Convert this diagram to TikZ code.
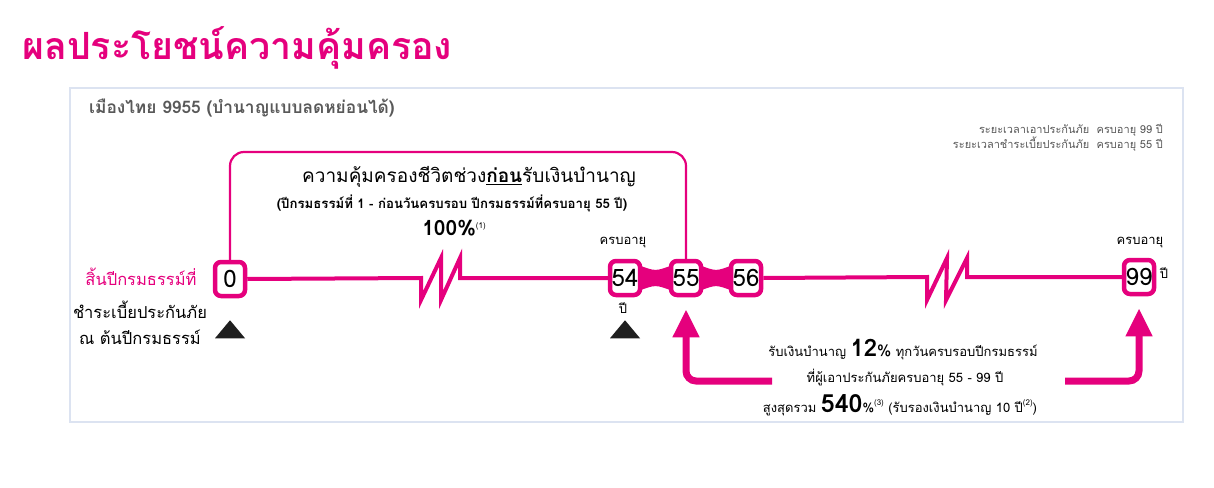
\documentclass[tikz,border=0pt]{standalone}
\usepackage{fontspec}
\setmainfont[Script=Thai]{Loma}
\usepackage{tikz}
\usetikzlibrary{arrows.meta, calc, backgrounds}
\definecolor{pk}{HTML}{E5007D}
\definecolor{frm}{HTML}{DCE3F1}
\definecolor{hd}{HTML}{595959}
\tikzset{>=latex}
\newcommand{\fs}[1]{\fontsize{#1}{#1}\selectfont}

\begin{document}
\begin{tikzpicture}[x=1pt, y=-1pt,
yr/.style={draw=pk, line width=4.5pt, rounded corners=6pt, fill=white, minimum width=30pt, minimum height=34pt, inner sep=0pt, font=\fs{24}},
tl/.style={pk, line width=4pt},
up/.style={pk, line width=7pt, rounded corners=10pt, shorten >=12pt, -{Triangle[width=25pt, length=28pt]}},
lbl/.style={font=\fs{13}, inner sep=0pt},
side/.style={font=\fs{16.5}, inner sep=0pt},
ann/.style={font=\fs{13}, inner sep=0pt}]
\useasboundingbox (0,0) rectangle (1214,487);
\node[anchor=west, text=pk, font=\bfseries\fs{37.5}, inner sep=0pt] (title) at (22,48) {ผลประโยชน์ความคุ้มครอง};
\draw[frm, line width=2pt] (70,88) rectangle (1183,422);
\node[anchor=west, text=hd, font=\bfseries\fs{17.3}, inner sep=0pt] (hdr) at (89,108) {เมืองไทย 9955 (บำนาญแบบลดหย่อนได้)};
\node[anchor=east, text=hd, font=\fs{11}, align=right, inner sep=0pt] (term) at (1163,138) {ระยะเวลาเอาประกันภัย\ \ ครบอายุ 99 ปี\\ระยะเวลาชำระเบี้ยประกันภัย\ \ ครบอายุ 55 ปี};

\node[yr] (y0) at (230,279) {0};
\node[yr] (y54) at (625,278) {54};
\node[yr] (y55) at (686,278) {55};
\node[yr] (y56) at (746,278) {56};
\node[yr] (y99) at (1139,277) {99};

\begin{scope}[on background layer]
\draw[tl] (y0.east) -- (421,278) -- (421,300) -- (441,258) -- (441,300) -- (460,258) -- (460,278) -- (y54.west);
\foreach \a/\b in {y54/y55, y55/y56}
  \fill[pk] ($(\a.east)+(-4,-13)$) .. controls ($(\a.east)!0.5!(\b.west)+(0,-6.5)$) .. ($(\b.west)+(4,-13)$)
    -- ($(\b.west)+(4,13)$) .. controls ($(\a.east)!0.5!(\b.west)+(0,6.5)$) .. ($(\a.east)+(-4,13)$) -- cycle;
\draw[tl] (y56.east) -- (927,277) -- (927,300) -- (947,258) -- (946,300) -- (967,258) -- (967,277) -- (y99.west);
\draw[pk, line width=2.2pt, rounded corners=14pt] (y0.north) |- (460,152) -| (y55.north);
\end{scope}

\node[font=\fs{19}] (cov) at (469,177) {ความคุ้มครองชีวิตช่วง\textbf{\underline{ก่อน}}รับเงินบำนาญ};
\node[font=\bfseries\fs{13.2}] (cov2) at (452,203) {(ปีกรมธรรม์ที่ 1 - ก่อนวันครบรอบ ปีกรมธรรม์ที่ครบอายุ 55 ปี)};
\node[font=\bfseries\fs{21}] (pct) at (454,228) {100\%\raisebox{7pt}{\mdseries\fs{8}(1)}};

\node[lbl] (age54) at (623,243) {ครบอายุ};
\node[lbl] (yr54) at (623,308) {ปี};
\node[lbl] (age99) at (1140,243) {ครบอายุ};
\node[lbl] (yr99) at (1164,273) {ปี};

\node[side, text=pk] (endyr) at (141,277) {สิ้นปีกรมธรรม์ที่};
\node[side] (pay) at (140,310) {ชำระเบี้ยประกันภัย};
\node[side] (start) at (140,337) {ณ ต้นปีกรมธรรม์};

\fill[black!88] ($(y0.south)+(0,22)$) -- ++(15,18) -- ++(-30,0) -- cycle;
\fill[black!88] ($(y54.south)+(0,23)$) -- ++(15,18) -- ++(-30,0) -- cycle;

\node[ann] (a1) at (903,350) {รับเงินบำนาญ\ {\bfseries\fs{24}12}{\fs{16}\%}\ ทุกวันครบรอบปีกรมธรรม์};
\node[ann] (a2) at (905,378) {ที่ผู้เอาประกันภัยครบอายุ 55 - 99 ปี};
\node[ann] (a3) at (900,405) {สูงสุดรวม\ {\bfseries\fs{25}540}\%\raisebox{7pt}{\fs{8}(3)}\ (รับรองเงินบำนาญ 10 ปี\raisebox{7pt}{\fs{8}(2)})};

\coordinate (al) at (772,381);
\coordinate (ar) at (1065,381);
\draw[up] (al) -| (y55.south);
\draw[up] (ar) -| (y99.south);
\end{tikzpicture}
\end{document}
